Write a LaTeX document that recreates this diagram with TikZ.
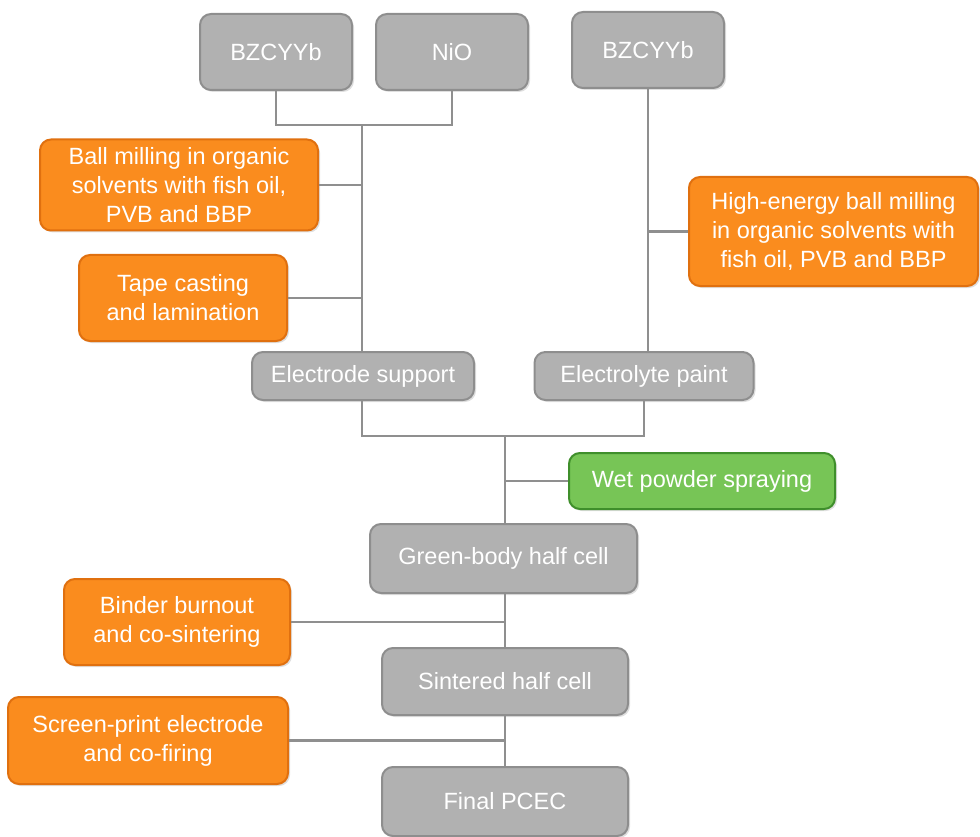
\documentclass[tikz,border=0pt]{standalone}
\usepackage{fontspec}
\setmainfont{Liberation Sans}
\usetikzlibrary{shadows}
\definecolor{grayfill}{HTML}{B1B1B1}
\definecolor{graydraw}{HTML}{8E8E8E}
\definecolor{orfill}{HTML}{FA8C1E}
\definecolor{ordraw}{HTML}{E0700F}
\definecolor{grfill}{HTML}{77C556}
\definecolor{grdraw}{HTML}{3F8F2B}
\definecolor{linec}{HTML}{8F8F8F}
\begin{document}
\begin{tikzpicture}[x=1pt,y=-1pt,
  base/.style={rounded corners=11pt,line width=2pt,text=white,align=center,inner sep=0pt,
    font=\fontsize{23.5}{29}\selectfont,drop shadow={shadow xshift=2pt,shadow yshift=-2pt,opacity=0.25}},
  graybox/.style={base,fill=grayfill,draw=graydraw},
  orbox/.style={base,fill=orfill,draw=ordraw},
  grbox/.style={base,fill=grfill,draw=grdraw},
  conn/.style={draw=linec,line width=2.5pt}]
\useasboundingbox (0,0) rectangle (980,837);
% nodes
\node[graybox,minimum width=152pt,minimum height=76pt] (b1) at (276,52) {BZCYYb};
\node[graybox,minimum width=152pt,minimum height=76pt] (nio) at (452,52) {NiO};
\node[graybox,minimum width=152pt,minimum height=76pt] (b2) at (648,50) {BZCYYb};
\node[orbox,minimum width=278pt,minimum height=91pt] (ball) at (179,185) {Ball milling in organic\\solvents with fish oil,\\PVB and BBP};
\node[orbox,minimum width=208pt,minimum height=86pt] (tape) at (183,298) {Tape casting\\and lamination};
\node[graybox,minimum width=222pt,minimum height=48pt] (es) at (363,376) {Electrode support};
\node[graybox,minimum width=219pt,minimum height=48pt] (ep) at (644,376) {Electrolyte paint};
\node[orbox,minimum width=289pt,minimum height=109pt] (he) at (833.5,231.5) {High-energy ball milling\\in organic solvents with\\fish oil, PVB and BBP};
\node[grbox,minimum width=266pt,minimum height=56pt] (wet) at (702,481) {Wet powder spraying};
\node[graybox,minimum width=267pt,minimum height=69pt] (gb) at (503.5,558.5) {Green-body half cell};
\node[orbox,minimum width=226pt,minimum height=86pt] (bind) at (177,622) {Binder burnout\\and co-sintering};
\node[graybox,minimum width=246pt,minimum height=67pt] (sh) at (505,681.5) {Sintered half cell};
\node[orbox,minimum width=280pt,minimum height=87pt] (scr) at (148,740.5) {Screen-print electrode\\and co-firing};
\node[graybox,minimum width=246pt,minimum height=69pt] (fin) at (505,801.5) {Final PCEC};
% junction coordinates
\coordinate (j1) at (362,125);
\coordinate (j2) at (505,436);
% connectors
\draw[conn] (b1.south) |- (j1) -| (nio.south);
\draw[conn] (j1) -- (j1 |- es.north);
\draw[conn] (ball.east) -- (ball.east -| j1);
\draw[conn] (tape.east) -- (tape.east -| j1);
\draw[conn] (b2.south) -- (b2.south |- ep.north);
\draw[conn] (he.west) -- (he.west -| b2.south);
\draw[conn] (es.south -| j1) |- (j2) -| (ep.south);
\draw[conn] (j2) -- (j2 |- gb.north);
\draw[conn] (wet.west) -- (wet.west -| j2);
\draw[conn] (gb.south -| j2) -- (sh.north -| j2);
\draw[conn] (bind.east) -- (bind.east -| j2);
\draw[conn] (sh.south -| j2) -- (fin.north -| j2);
\draw[conn] (scr.east) -- (scr.east -| j2);
\end{tikzpicture}
\end{document}
